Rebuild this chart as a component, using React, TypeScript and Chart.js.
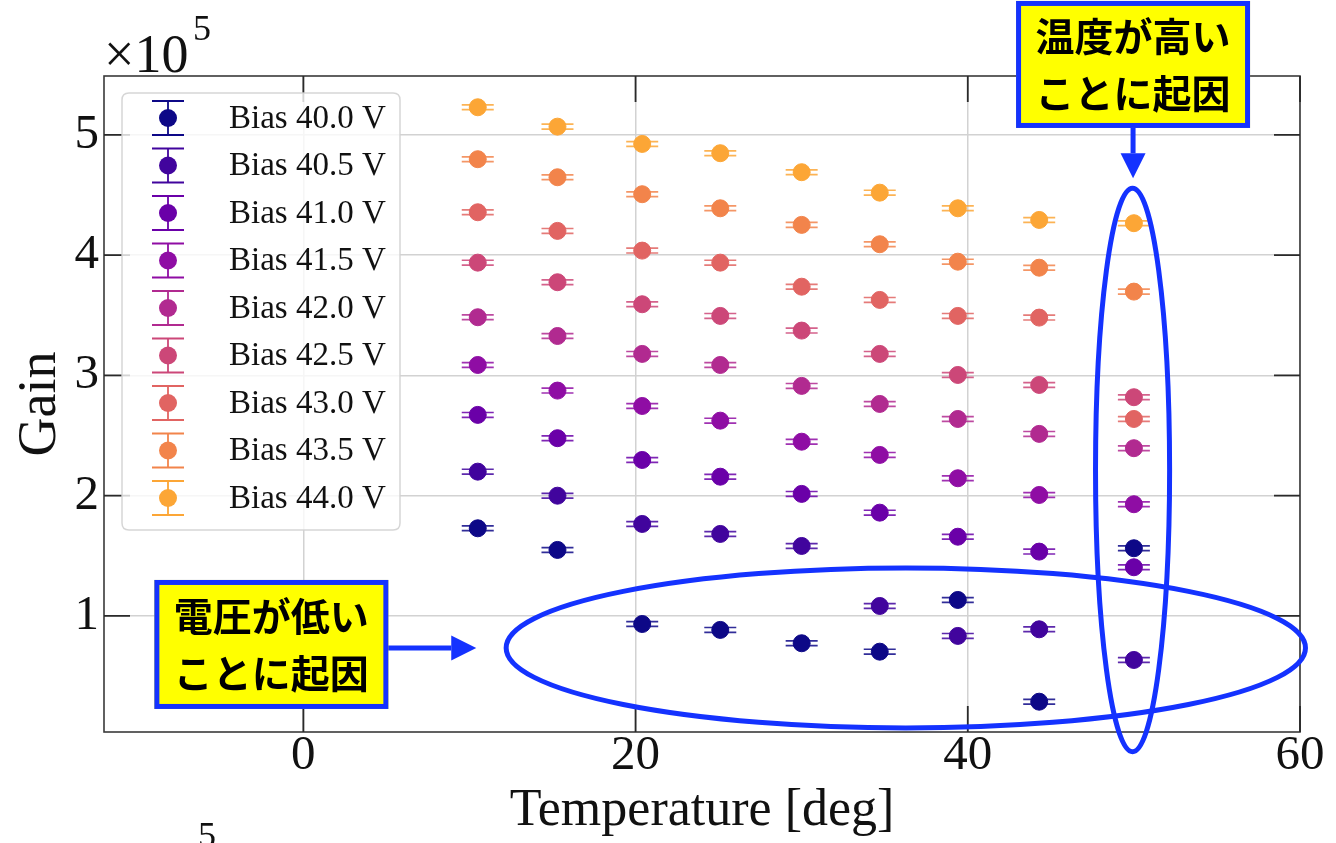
import React, { useEffect, useRef } from "react";
import { Chart, registerables } from "chart.js";

Chart.register(...registerables);

// ---- Data (gain in units of 10^5) ----
const temperature = [10.5, 15.3, 20.4, 25.1, 30.0, 34.7, 39.4, 44.3, 50.0];

const biasLabels = [
  "Bias 40.0 V",
  "Bias 40.5 V",
  "Bias 41.0 V",
  "Bias 41.5 V",
  "Bias 42.0 V",
  "Bias 42.5 V",
  "Bias 43.0 V",
  "Bias 43.5 V",
  "Bias 44.0 V",
];

const bias40_0 = [1.729, 1.549, 0.933, 0.884, 0.773, 0.703, 1.133, 0.287, 1.563];
const bias40_5 = [2.2, 2.0, 1.765, 1.682, 1.582, 1.083, 0.834, 0.889, 0.634];
const bias41_0 = [2.672, 2.478, 2.297, 2.158, 2.015, 1.859, 1.659, 1.535, 1.405];
const bias41_5 = [3.087, 2.874, 2.746, 2.624, 2.449, 2.339, 2.145, 2.006, 1.929];
const bias42_0 = [3.484, 3.328, 3.179, 3.087, 2.913, 2.763, 2.638, 2.514, 2.395];
const bias42_5 = [3.938, 3.775, 3.592, 3.495, 3.373, 3.179, 3.004, 2.921, 2.819];
const bias43_0 = [4.357, 4.202, 4.038, 3.938, 3.738, 3.628, 3.495, 3.481, 2.638];
const bias43_5 = [4.798, 4.648, 4.507, 4.39, 4.252, 4.091, 3.946, 3.896, 3.697];
const bias44_0 = [5.23, 5.069, 4.925, 4.848, 4.69, 4.52, 4.39, 4.293, 4.266];

const gainError = 0.02;

const xTickValues = [0, 20, 40, 60];
const yTickValues = [1, 2, 3, 4, 5];

const seriesValues = [
  bias40_0,
  bias40_5,
  bias41_0,
  bias41_5,
  bias42_0,
  bias42_5,
  bias43_0,
  bias43_5,
  bias44_0,
];

// plasma colormap samples
const seriesColors = [
  "#0d0887",
  "#41049d",
  "#6a00a8",
  "#8f0da4",
  "#b12a90",
  "#cc4778",
  "#e16462",
  "#f2844b",
  "#fca636",
];

const SERIF = '"Liberation Serif", "Times New Roman", serif';
const CJK = '"Noto Sans CJK JP", "Noto Sans CJK SC", sans-serif';
const BLUE = "#1432ff";

const W = 1336;
const H = 843;

function roundRectPath(ctx: CanvasRenderingContext2D, x: number, y: number, w: number, h: number, r: number) {
  ctx.beginPath();
  ctx.moveTo(x + r, y);
  ctx.lineTo(x + w - r, y);
  ctx.quadraticCurveTo(x + w, y, x + w, y + r);
  ctx.lineTo(x + w, y + h - r);
  ctx.quadraticCurveTo(x + w, y + h, x + w - r, y + h);
  ctx.lineTo(x + r, y + h);
  ctx.quadraticCurveTo(x, y + h, x, y + h - r);
  ctx.lineTo(x, y + r);
  ctx.quadraticCurveTo(x, y, x + r, y);
  ctx.closePath();
}

const frameAndErrorPlugin = {
  id: "frameAndError",
  beforeDatasetsDraw(chart: any) {
    const { ctx, chartArea, scales } = chart;
    const { left, right, top, bottom } = chartArea;
    const xs = scales.x;
    const ys = scales.y;
    ctx.save();
    // frame
    ctx.strokeStyle = "#3a3a3a";
    ctx.lineWidth = 1.6;
    ctx.strokeRect(left, top, right - left, bottom - top);
    // inward ticks on all sides
    ctx.lineWidth = 1.8;
    ctx.strokeStyle = "#2a2a2a";
    ctx.beginPath();
    xTickValues.forEach((v) => {
      const px = xs.getPixelForValue(v);
      ctx.moveTo(px, bottom);
      ctx.lineTo(px, bottom - 26);
      ctx.moveTo(px, top);
      ctx.lineTo(px, top + 26);
    });
    yTickValues.forEach((v) => {
      const py = ys.getPixelForValue(v);
      ctx.moveTo(left, py);
      ctx.lineTo(left + 26, py);
      ctx.moveTo(right, py);
      ctx.lineTo(right - 26, py);
    });
    ctx.stroke();

    // error bars (caps)
    chart.data.datasets.forEach((ds: any, i: number) => {
      ctx.strokeStyle = seriesColors[i];
      ctx.globalAlpha = 0.85;
      ctx.lineWidth = 1.7;
      ds.data.forEach((p: any) => {
        const px = xs.getPixelForValue(p.x);
        const yt = ys.getPixelForValue(p.y + gainError);
        const yb = ys.getPixelForValue(p.y - gainError);
        ctx.beginPath();
        ctx.moveTo(px - 16, yt);
        ctx.lineTo(px + 16, yt);
        ctx.moveTo(px - 16, yb);
        ctx.lineTo(px + 16, yb);
        ctx.moveTo(px, yt);
        ctx.lineTo(px, yb);
        ctx.stroke();
      });
    });
    ctx.restore();
  },
};

function drawCallout(ctx: CanvasRenderingContext2D, cx: number, cy: number, w: number, h: number, lines: string[]) {
  const bw = 5;
  ctx.fillStyle = "#ffff00";
  ctx.fillRect(cx - w / 2, cy - h / 2, w, h);
  ctx.strokeStyle = BLUE;
  ctx.lineWidth = bw;
  ctx.strokeRect(cx - w / 2 + bw / 2, cy - h / 2 + bw / 2, w - bw, h - bw);
  ctx.fillStyle = "#000";
  ctx.font = `bold 39px ${CJK}`;
  ctx.textAlign = "center";
  ctx.textBaseline = "middle";
  ctx.fillText(lines[0], cx, cy - 28.5);
  ctx.fillText(lines[1], cx, cy + 28.5);
}

function drawArrow(ctx: CanvasRenderingContext2D, x1: number, y1: number, x2: number, y2: number) {
  const ang = Math.atan2(y2 - y1, x2 - x1);
  const headLen = 25;
  const headHalf = 12.5;
  const bx = x2 - headLen * Math.cos(ang);
  const by = y2 - headLen * Math.sin(ang);
  ctx.strokeStyle = BLUE;
  ctx.fillStyle = BLUE;
  ctx.lineWidth = 5;
  ctx.beginPath();
  ctx.moveTo(x1, y1);
  ctx.lineTo(bx, by);
  ctx.stroke();
  ctx.beginPath();
  ctx.moveTo(x2, y2);
  ctx.lineTo(bx + headHalf * Math.sin(ang), by - headHalf * Math.cos(ang));
  ctx.lineTo(bx - headHalf * Math.sin(ang), by + headHalf * Math.cos(ang));
  ctx.closePath();
  ctx.fill();
}

const overlayPlugin = {
  id: "overlay",
  afterDraw(chart: any) {
    const { ctx, scales } = chart;
    const xs = scales.x;
    const ys = scales.y;
    ctx.save();

    // legend
    const lx = 122, ly = 93, lw = 278, lh = 437;
    roundRectPath(ctx, lx, ly, lw, lh, 7);
    ctx.fillStyle = "rgba(255,255,255,0.8)";
    ctx.fill();
    ctx.strokeStyle = "rgba(210,210,210,0.9)";
    ctx.lineWidth = 1.5;
    ctx.stroke();
    biasLabels.forEach((label, i) => {
      const cy = 118 + i * 47.5;
      const mx = 168;
      ctx.strokeStyle = seriesColors[i];
      ctx.lineWidth = 1.8;
      ctx.beginPath();
      ctx.moveTo(mx, cy - 17);
      ctx.lineTo(mx, cy + 17);
      ctx.moveTo(mx - 16, cy - 17);
      ctx.lineTo(mx + 16, cy - 17);
      ctx.moveTo(mx - 16, cy + 17);
      ctx.lineTo(mx + 16, cy + 17);
      ctx.stroke();
      ctx.fillStyle = seriesColors[i];
      ctx.beginPath();
      ctx.arc(mx, cy, 9, 0, Math.PI * 2);
      ctx.fill();
      ctx.fillStyle = "#111";
      ctx.font = `33px ${SERIF}`;
      ctx.textAlign = "left";
      ctx.textBaseline = "middle";
      ctx.fillText(label, 229, cy + 1);
    });

    // x10^5 offset text
    ctx.fillStyle = "#111";
    ctx.textAlign = "left";
    ctx.textBaseline = "alphabetic";
    ctx.font = `54px ${SERIF}`;
    ctx.fillText("\u00d710", 104, 72);
    ctx.font = `36px ${SERIF}`;
    ctx.fillText("5", 193, 40);
    // stray cropped exponent at bottom
    ctx.fillText("5", 198, 847);

    // ellipses (data coordinates)
    ctx.strokeStyle = BLUE;
    ctx.lineWidth = 5;
    const e1x = xs.getPixelForValue(36.27);
    const e1y = ys.getPixelForValue(0.734);
    const e1rx = xs.getPixelForValue(36.27 + 24.06) - e1x;
    const e1ry = e1y - ys.getPixelForValue(0.734 + 0.665);
    ctx.beginPath();
    ctx.ellipse(e1x, e1y, e1rx, e1ry, 0, 0, Math.PI * 2);
    ctx.stroke();

    const e2x = xs.getPixelForValue(49.92);
    const e2y = ys.getPixelForValue(2.214);
    const e2rx = xs.getPixelForValue(49.92 + 2.23) - e2x;
    const e2ry = e2y - ys.getPixelForValue(2.214 + 2.343);
    ctx.beginPath();
    ctx.ellipse(e2x, e2y, e2rx, e2ry, 0, 0, Math.PI * 2);
    ctx.stroke();

    // callouts
    const b1x = xs.getPixelForValue(49.95);
    const b1y = ys.getPixelForValue(5.586);
    drawArrow(ctx, b1x, b1y + 62, b1x, ys.getPixelForValue(4.64));
    drawCallout(ctx, b1x, b1y, 234, 127, ["\u6e29\u5ea6\u304c\u9ad8\u3044", "\u3053\u3068\u306b\u8d77\u56e0"]);

    const b2x = xs.getPixelForValue(-1.925);
    const b2y = ys.getPixelForValue(0.763);
    const arrowY = ys.getPixelForValue(0.734);
    drawArrow(ctx, b2x + 115, arrowY, xs.getPixelForValue(10.41), arrowY);
    drawCallout(ctx, b2x, b2y, 234, 129, ["\u96fb\u5727\u304c\u4f4e\u3044", "\u3053\u3068\u306b\u8d77\u56e0"]);

    ctx.restore();
  },
};

export default function App() {
  const canvasRef = useRef<HTMLCanvasElement | null>(null);

  useEffect(() => {
    if (!canvasRef.current) return;
    const datasets = seriesValues.map((vals, i) => ({
      label: biasLabels[i],
      data: vals.map((v, j) => ({ x: temperature[j], y: v })),
      backgroundColor: seriesColors[i],
      borderColor: seriesColors[i],
      pointRadius: 8.5,
      pointBorderWidth: 1,
      pointHoverRadius: 8.5,
      showLine: false,
    }));

    const chart = new Chart(canvasRef.current, {
      type: "scatter",
      data: { datasets },
      plugins: [frameAndErrorPlugin, overlayPlugin],
      options: {
        animation: false,
        responsive: false,
        devicePixelRatio: 1,
        layout: { padding: { left: 0, right: 36, top: 76, bottom: 0 } },
        plugins: {
          legend: { display: false },
          tooltip: { enabled: false },
        },
        scales: {
          x: {
            type: "linear",
            min: -12,
            max: 60,
            afterBuildTicks: (scale: any) => {
              scale.ticks = xTickValues.map((v) => ({ value: v }));
            },
            afterFit: (scale: any) => {
              scale.height = 111;
            },
            border: { display: false },
            grid: { color: "#d2d2d2", lineWidth: 1.5, drawTicks: false },
            ticks: {
              color: "#111",
              padding: 0,
              font: { family: SERIF, size: 49, lineHeight: 1 },
              maxRotation: 0,
              callback: (v: any) => String(v),
            },
            title: {
              display: true,
              text: "Temperature [deg]",
              color: "#111",
              font: { family: SERIF, size: 52, lineHeight: 1 },
              padding: { top: 0, bottom: 6 },
            },
          },
          y: {
            type: "linear",
            min: 0.035,
            max: 5.49,
            afterBuildTicks: (scale: any) => {
              scale.ticks = yTickValues.map((v) => ({ value: v }));
            },
            afterFit: (scale: any) => {
              scale.width = 104;
            },
            border: { display: false },
            grid: { color: "#d2d2d2", lineWidth: 1.5, drawTicks: false },
            ticks: {
              color: "#111",
              padding: 5,
              font: { family: SERIF, size: 49, lineHeight: 1 },
              callback: (v: any) => String(v),
            },
            title: {
              display: true,
              text: "Gain",
              color: "#111",
              font: { family: SERIF, size: 54, lineHeight: 1 },
              padding: { top: 14, bottom: 0 },
            },
          },
        },
      } as any,
    });
    return () => chart.destroy();
  }, []);

  return (
    <div style={{ position: "absolute", left: 0, top: 0, width: W, height: H, background: "#fff" }}>
      <canvas ref={canvasRef} width={W} height={H} style={{ display: "block", width: W, height: H }} />
    </div>
  );
}
